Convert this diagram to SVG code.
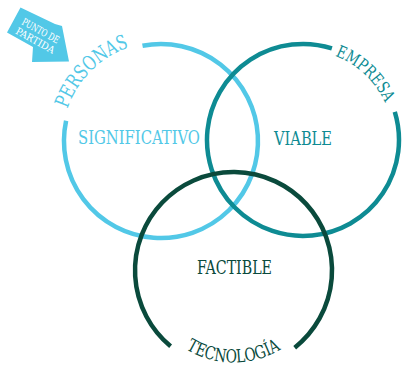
<svg xmlns="http://www.w3.org/2000/svg" width="403" height="366" viewBox="0 0 403 366">
  <style>
    .ring { fill: none; stroke-width: 4.5; stroke-linecap: butt; }
    .lbl { font-family: "DejaVu Serif Condensed", "DejaVu Serif", serif; font-stretch: condensed; }
    .blue { fill: #52c8e7; }
    .teal { fill: #0e8b93; }
    .green { fill: #0a4a3c; }
  </style>
  <defs>
    <!-- baselines for the curved titles -->
    <path id="arc-personas" d="M62,141 A99,99 0 0 1 161,42"/>
    <path id="arc-empresa" d="M303,50 A90,90 0 0 1 393,140"/>
    <path id="arc-tecnologia" d="M141.5,270.5 A92,92 0 0 0 325.5,270.5"/>
  </defs>

  <g id="connectors">
    <!-- each circle leaves a gap where its title sits -->
    <path id="ring-personas" class="ring" stroke="#52c8e7" d="M142.5,45.8 A97,97 0 1 1 66.1,120.8"/>
    <path id="ring-empresa" class="ring" stroke="#0e8b93" d="M394.8,111.9 A96,96 0 1 1 331.9,48.4"/>
    <path id="ring-tecnologia" class="ring" stroke="#0a4a3c" d="M170.6,346.3 A98.5,98.5 0 1 1 294.7,347.7"/>
  </g>

  <g id="start-arrow">
    <polygon class="blue" points="20.5,7.5 7,32.5 33,47 32,62 69,61.5 62,26 55,24"/>
    <text class="lbl" fill="#ffffff" font-size="10" transform="translate(21,24) rotate(29)">
      <tspan x="0" y="0" textLength="41" lengthAdjust="spacingAndGlyphs">PUNTO DE</tspan>
      <tspan x="-1" y="11" textLength="43" lengthAdjust="spacingAndGlyphs">PARTIDA</tspan>
    </text>
  </g>

  <g id="node-personas">
    <text class="lbl blue" font-size="20">
      <textPath href="#arc-personas" startOffset="50%" text-anchor="middle" textLength="90" lengthAdjust="spacingAndGlyphs">PERSONAS</textPath>
    </text>
    <text class="lbl blue" font-size="19" x="78" y="144" textLength="122" lengthAdjust="spacingAndGlyphs">SIGNIFICATIVO</text>
  </g>

  <g id="node-empresa">
    <text class="lbl teal" font-size="17">
      <textPath href="#arc-empresa" startOffset="48%" text-anchor="middle" textLength="70" lengthAdjust="spacingAndGlyphs">EMPRESA</textPath>
    </text>
    <text class="lbl teal" font-size="18" x="274" y="145" textLength="58" lengthAdjust="spacingAndGlyphs">VIABLE</text>
  </g>

  <g id="node-tecnologia">
    <text class="lbl green" font-size="18">
      <textPath href="#arc-tecnologia" startOffset="50%" text-anchor="middle" textLength="100" lengthAdjust="spacingAndGlyphs">TECNOLOGÍA</textPath>
    </text>
    <text class="lbl green" font-size="19" x="197" y="274" textLength="75" lengthAdjust="spacingAndGlyphs">FACTIBLE</text>
  </g>
</svg>
